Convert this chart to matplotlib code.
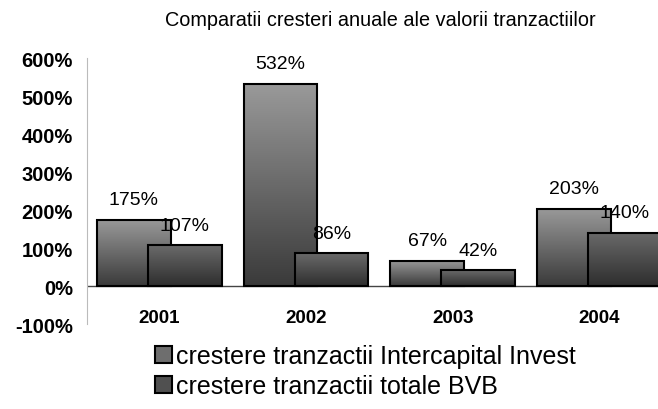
import numpy as np
import matplotlib
matplotlib.use('Agg')
from matplotlib import pyplot as plt
from matplotlib.patches import Rectangle

plt.rcParams['font.family'] = ['Liberation Sans', 'DejaVu Sans']

years = ['2001', '2002', '2003', '2004']
intercapital = [175, 532, 67, 203]
bvb = [107, 86, 42, 140]
series_names = ['crestere tranzactii Intercapital Invest', 'crestere tranzactii totale BVB']
yticks = [-100, 0, 100, 200, 300, 400, 500, 600]

fig = plt.figure(figsize=(6.58, 4.10), dpi=100)
ax = fig.add_axes([0.132, 0.207, 0.868, 0.649])

width = 0.504
offset = 0.174
grad = np.linspace(0, 1, 256).reshape(-1, 1)

def gradient_bars(xs, vals, top, bottom, z):
    # bars with a vertical gradient, lighter on top
    cmap = matplotlib.colors.LinearSegmentedColormap.from_list('g', [bottom, top])
    bars = ax.bar(xs, vals, width, facecolor='none', edgecolor='black', linewidth=1.5, zorder=z + 1)
    for b in bars:
        x0, y0 = b.get_x(), b.get_y()
        w, h = b.get_width(), b.get_height()
        ax.imshow(grad, cmap=cmap, aspect='auto', origin='lower',
                  extent=(x0, x0 + w, y0, y0 + h), zorder=z)
    return bars

x = np.arange(len(years))
gradient_bars(x - offset, intercapital, '#9a9a9a', '#3a3a3a', 2)
gradient_bars(x + offset, bvb, '#6a6a6a', '#2e2e2e', 4)

for xs, vals in ((x - offset, intercapital), (x + offset, bvb)):
    for xi, v in zip(xs, vals):
        ax.text(xi, v + 53, f'{v}%', ha='center', va='center', fontsize=14, zorder=6)

ax.set_xlim(-0.494, 3.40)
ax.set_ylim(-100, 600)
ax.axhline(0, color='#444444', linewidth=1, zorder=1)
ax.set_yticks(yticks)
ax.set_yticklabels([f'{t}%' for t in yticks], fontsize=14.5, fontweight='bold')
ax.tick_params(axis='y', length=0, pad=10)
ax.set_xticks([])
for xi, yr in zip(x, years):
    ax.text(xi, -82, yr, ha='center', va='center', fontsize=13.5, fontweight='bold',
            clip_on=False)
for s in ['top', 'right', 'bottom']:
    ax.spines[s].set_visible(False)
ax.spines['left'].set_color('#bbbbbb')

fig.text(0.578, 0.950, 'Comparatii cresteri anuale ale valorii tranzactiilor',
         ha='center', va='center', fontsize=14.3)

handles = [Rectangle((0, 0), 1, 1, facecolor='#6e6e6e', edgecolor='black', linewidth=1.5),
           Rectangle((0, 0), 1, 1, facecolor='#505050', edgecolor='black', linewidth=1.5)]
fig.legend(handles, series_names, loc='upper left', bbox_to_anchor=(0.236, 0.158),
           frameon=False, fontsize=18, handlelength=0.68, handleheight=0.68,
           handletextpad=0.15, labelspacing=0.25, borderaxespad=0, borderpad=0)

fig.savefig('out.png', dpi=100)
